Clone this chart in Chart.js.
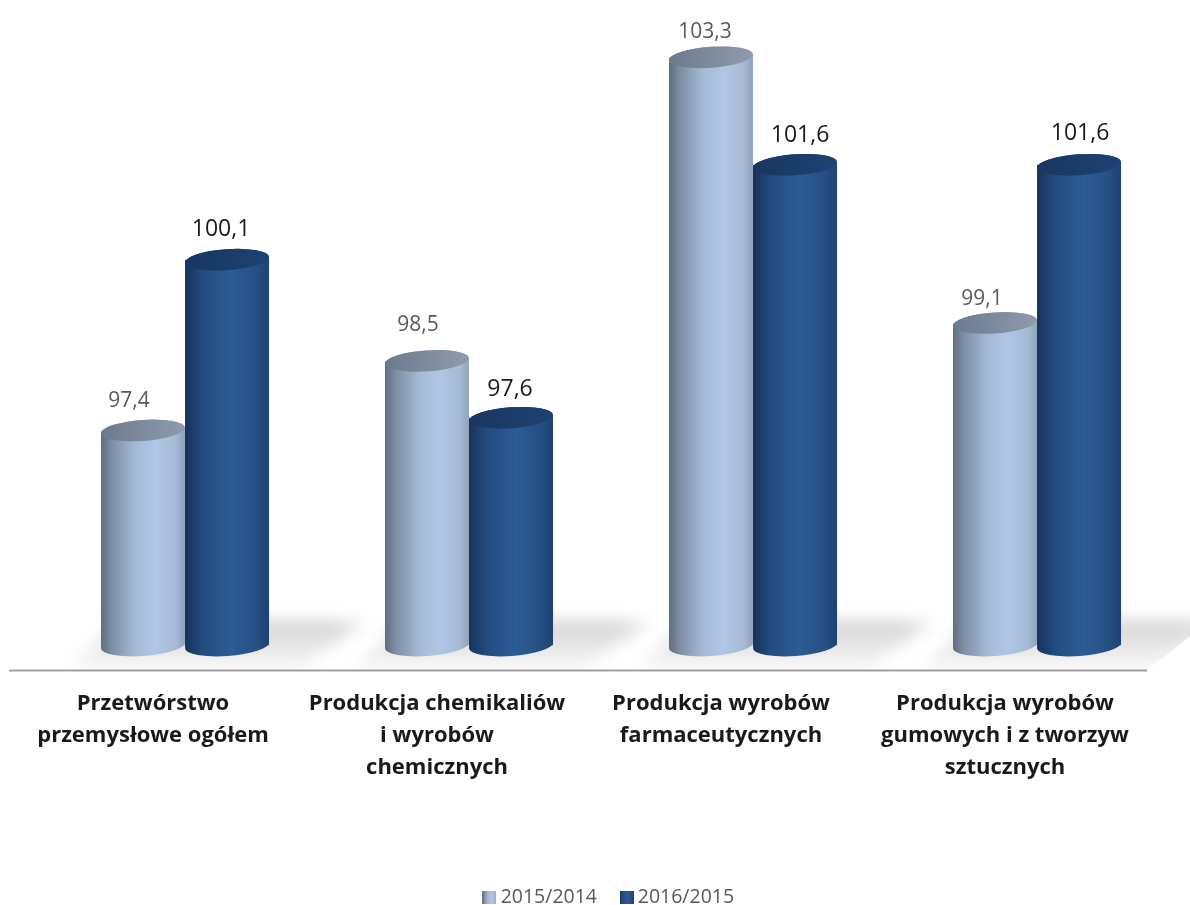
<!DOCTYPE html>
<html lang="pl">
<head>
<meta charset="utf-8">
<title>Produkcja sprzedana</title>
<script src="https://cdn.jsdelivr.net/npm/chart.js@4/dist/chart.umd.min.js"></script>
<style>
  html, body { margin: 0; background: #fff; }
  #wrap { width: 1190px; height: 905px; }
</style>
</head>
<body>
<div id="wrap"><canvas id="wykres"></canvas></div>
<script>
/* Dane wykresu */
const KATEGORIE = [
  ['Przetwórstwo', 'przemysłowe ogółem'],
  ['Produkcja chemikaliów', 'i wyrobów', 'chemicznych'],
  ['Produkcja wyrobów', 'farmaceutycznych'],
  ['Produkcja wyrobów', 'gumowych i z tworzyw', 'sztucznych']
];
const SERIA_2015 = [97.4, 98.5, 103.3, 99.1];
const SERIA_2016 = [100.1, 97.6, 101.6, 101.6];
const ETYKIETY_SERII = ['2015/2014', '2016/2015'];

/* Przesunięcia podpisów wartości względem środka walca [dx, dy] */
const PRZESUNIECIA = [
  [[-14, -29], [-9, -36], [-6, -25], [-13, -24]],
  [[-6, -30], [-1, -28], [5, -29], [1, -31]]
];

const FONT = "'Open Sans', 'Noto Sans', sans-serif";

/* Kolory walców: bok (gradient poziomy) i górna pokrywa */
const STYLE = [
  {
    bok: [[0, '#5f6c7d'], [0.12, '#7c8ca1'], [0.4, '#a4b9d5'], [0.65, '#b0c6e4'], [0.9, '#a5b9d5'], [1, '#8fa1ba']],
    gora: ['#6c7a8d', '#8d9bad'],
    tekst: '#595959', rozmiar: 21
  },
  {
    bok: [[0, '#17325a'], [0.2, '#234b7e'], [0.55, '#2c5c96'], [0.85, '#264f84'], [1, '#1f4273']],
    gora: ['#193660', '#1c4273'],
    tekst: '#1a1a1a', rozmiar: 23
  }
];

const POCHYLENIE = -4 * Math.PI / 180;
const RY = 10.5;

/* Walec rysowany na podstawie pozycji słupka ze skal Chart.js */
function rysujWalec(ctx, el, styl) {
  const cx = el.x, rx = el.width / 2, gora = el.y, dol = el.base;
  const grad = ctx.createLinearGradient(cx - rx, 0, cx + rx, 0);
  styl.bok.forEach(([p, k]) => grad.addColorStop(p, k));
  ctx.beginPath();
  ctx.ellipse(cx, dol, rx, RY, POCHYLENIE, 0, Math.PI);
  ctx.ellipse(cx, gora, rx, RY, POCHYLENIE, Math.PI, 2 * Math.PI);
  ctx.closePath();
  ctx.fillStyle = grad;
  ctx.fill();

  const gradGora = ctx.createLinearGradient(cx - rx, 0, cx + rx, 0);
  gradGora.addColorStop(0, styl.gora[0]);
  gradGora.addColorStop(1, styl.gora[1]);
  ctx.beginPath();
  ctx.ellipse(cx, gora, rx, RY, POCHYLENIE, 0, 2 * Math.PI);
  ctx.fillStyle = gradGora;
  ctx.fill();
}

/* Podłoga: cienie za parami walców i linia osi */
const podloga = {
  id: 'podloga',
  beforeDatasetsDraw(chart) {
    const { ctx, chartArea } = chart;
    const dol = chartArea.bottom;
    const linia = dol + 25;
    const prawyKoniec = chartArea.right - 32;

    ctx.save();
    // obrys podłogi ucina cień po prawej stronie
    ctx.beginPath();
    ctx.moveTo(9, linia);
    ctx.lineTo(prawyKoniec, linia);
    ctx.lineTo(1190, linia - 34);
    ctx.lineTo(1190, dol - 40);
    ctx.lineTo(9, dol - 40);
    ctx.closePath();
    ctx.clip();

    chart.getDatasetMeta(0).data.forEach((el, i) => {
      const lewy = el.x - el.width / 2;
      const prawy = chart.getDatasetMeta(1).data[i].x + el.width / 2;
      const g = ctx.createLinearGradient(0, dol - 26, 0, linia);
      g.addColorStop(0, 'rgba(0,0,0,0.17)');
      g.addColorStop(0.35, 'rgba(0,0,0,0.12)');
      g.addColorStop(1, 'rgba(0,0,0,0.03)');
      ctx.filter = 'blur(8px)';
      ctx.fillStyle = g;
      ctx.beginPath();
      ctx.moveTo(lewy - 30, linia - 3);
      ctx.lineTo(prawy + 30, linia - 3);
      ctx.lineTo(prawy + 95, dol - 22);
      ctx.lineTo(prawy + 60, dol - 26);
      ctx.lineTo(lewy + 20, dol - 26);
      ctx.closePath();
      ctx.fill();
    });
    ctx.restore();

    ctx.save();
    ctx.strokeStyle = '#a0a0a0';
    ctx.lineWidth = 2;
    ctx.beginPath();
    ctx.moveTo(9, linia);
    ctx.lineTo(prawyKoniec, linia);
    ctx.stroke();
    ctx.restore();
  }
};

/* Walce i podpisy wartości */
const walce = {
  id: 'walce',
  afterDatasetsDraw(chart) {
    const { ctx } = chart;
    chart.data.datasets.forEach((ds, s) => {
      chart.getDatasetMeta(s).data.forEach(el => rysujWalec(ctx, el, STYLE[s]));
    });
    chart.data.datasets.forEach((ds, s) => {
      ctx.save();
      ctx.font = `${STYLE[s].rozmiar}px ${FONT}`;
      ctx.fillStyle = STYLE[s].tekst;
      ctx.textAlign = 'center';
      ctx.textBaseline = 'middle';
      chart.getDatasetMeta(s).data.forEach((el, i) => {
        const [dx, dy] = PRZESUNIECIA[s][i];
        ctx.fillText(ds.data[i].toFixed(1).replace('.', ','), el.x + dx, el.y + dy);
      });
      ctx.restore();
    });
  }
};

/* Kwadrat legendy z tym samym gradientem co walec */
function probkaLegendy(styl) {
  const c = document.createElement('canvas');
  c.width = 14; c.height = 13;
  const x = c.getContext('2d');
  const g = x.createLinearGradient(0, 0, 14, 0);
  styl.bok.forEach(([p, k]) => g.addColorStop(p, k));
  x.fillStyle = g;
  x.fillRect(0, 0, 14, 13);
  return c;
}

new Chart(document.getElementById('wykres'), {
  type: 'bar',
  data: {
    labels: KATEGORIE,
    datasets: [
      { label: ETYKIETY_SERII[0], data: SERIA_2015, base: 94, backgroundColor: '#a9bfdc', pointStyle: probkaLegendy(STYLE[0]) },
      { label: ETYKIETY_SERII[1], data: SERIA_2016, base: 94, backgroundColor: '#2c5c96', pointStyle: probkaLegendy(STYLE[1]) }
    ]
  },
  options: {
    responsive: true,
    maintainAspectRatio: false,
    animation: false,
    layout: { padding: { left: 43, right: 11, top: 13, bottom: -12 } },
    datasets: { bar: { categoryPercentage: 0.592, barPercentage: 1 } },
    scales: {
      y: { display: false, min: 94, max: 104 },
      x: {
        // wysokość osi stała, a podpisy nie zwężają obszaru wykresu
        afterFit(os) { os.height = 214; os.paddingLeft = 0; os.paddingRight = 0; },
        grid: { display: false },
        border: { display: false },
        ticks: {
          autoSkip: false,
          maxRotation: 0,
          padding: 34,
          labelOffset: -32,
          color: '#1a1a1a',
          font: { family: FONT, size: 22, weight: 'bold', lineHeight: 1.45 }
        }
      }
    },
    plugins: {
      tooltip: { enabled: false },
      legend: {
        position: 'bottom',
        labels: {
          usePointStyle: true,
          boxWidth: 3,
          boxHeight: 13,
          padding: 28,
          color: '#595959',
          font: { family: FONT, size: 19.5 }
        }
      }
    }
  },
  plugins: [podloga, walce]
});
</script>
</body>
</html>
